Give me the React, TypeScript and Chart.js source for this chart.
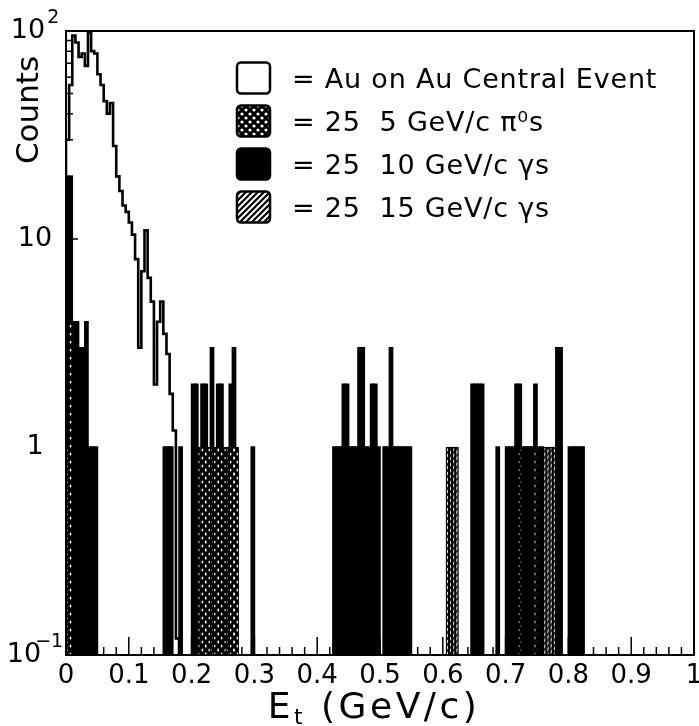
import React, { useEffect, useRef } from "react";
import { Chart, registerables } from "chart.js";

Chart.register(...registerables);

// ---------- data ----------
const BIN_WIDTH = 0.005;
const N_BINS = 200;

const xTickValues = [0, 0.1, 0.2, 0.3, 0.4, 0.5, 0.6, 0.7, 0.8, 0.9, 1];
const xTickLabels = ["0", "0.1", "0.2", "0.3", "0.4", "0.5", "0.6", "0.7", "0.8", "0.9", "1"];
const yTickValues = [0.1, 1, 10, 100];
// base text and superscript of each y tick label
const yTickBase = ["10", "1", "10", "10"];
const yTickSup = ["−1", "", "", "2"];

// Au on Au central event (open histogram), bins of 0.005 starting at 0
const auCounts = [
  12, 30, 55, 95, 88, 75, 78, 68, 98, 80, 78, 62, 55, 46, 40, 45, 28, 20, 17, 14.5,
  13.5, 12, 10.5, 8, 3, 7, 11, 6.5, 5, 2, 4, 5, 3.5, 2.8, 1.8, 1.2, 0.12,
];

// 25 10 GeV/c photons (solid black)
const gamma10Bins = [
  0, 1, 2, 3, 4, 5, 6, 7, 8, 9,
  31, 32, 33, 36, 40, 41, 43, 44, 46, 48, 49, 52, 53, 59,
  85, 86, 87, 88, 89, 90, 91, 92, 93, 94, 95, 96, 97, 98, 99,
  101, 102, 103, 104, 105, 106, 107, 108, 109,
  129, 130, 131, 132, 137,
  140, 141, 142, 143, 144, 145, 146, 147, 148, 149, 150, 151,
  156, 157, 160, 161, 162, 163, 164,
];
const gamma10Counts = [
  20, 20, 4, 4, 3, 3, 4, 1, 1, 1,
  1, 1, 1, 1, 2, 2, 2, 2, 3, 2, 2, 2, 3, 1,
  1, 1, 1, 2, 2, 1, 1, 1, 3, 3, 1, 1, 2, 2, 1,
  1, 1, 3, 1, 1, 1, 1, 1, 1,
  2, 2, 2, 2, 1,
  1, 1, 1, 2, 2, 1, 1, 1, 1, 2, 1, 1,
  3, 3, 1, 1, 1, 1, 1,
];

// 25 5 GeV/c pi0s (cross-hatched)
const pi0Bins = [0, 1, 42, 43, 44, 45, 46, 47, 48, 49, 50, 51, 52, 53, 54, 144, 149];
const pi0Counts = [1, 4, 1, 1, 1, 1, 1, 1, 1, 1, 1, 1, 1, 1, 1, 1, 1];

// 25 15 GeV/c photons (diagonal hatch)
const gamma15Bins = [121, 122, 123, 124, 152, 153, 154, 155];
const gamma15Counts = [1, 1, 1, 1, 1, 1, 1, 1];

const legendLabels = [
  "= Au on Au Central Event",
  "= 25  5 GeV/c π⁰s",
  "= 25  10 GeV/c γs",
  "= 25  15 GeV/c γs",
];

const FONT = "DejaVu Sans";

// ---------- helpers ----------
function toBarPoints(bins: number[], counts: number[]) {
  const arr: { x: number; y: number | null }[] = [];
  for (let i = 0; i < N_BINS; i++) arr.push({ x: (i + 0.5) * BIN_WIDTH, y: null });
  bins.forEach((b, k) => {
    arr[b].y = counts[k];
  });
  return arr;
}

function toStepPoints(counts: number[]) {
  const pts = counts.map((c, i) => ({ x: i * BIN_WIDTH, y: c }));
  pts.push({ x: counts.length * BIN_WIDTH, y: 0.1 });
  return pts;
}

function makeDotPattern(ctx: CanvasRenderingContext2D): CanvasPattern {
  const s = 8;
  const c = document.createElement("canvas");
  c.width = s;
  c.height = s;
  const g = c.getContext("2d")!;
  g.fillStyle = "#000";
  g.fillRect(0, 0, s, s);
  g.fillStyle = "#fff";
  g.beginPath();
  g.arc(2, 2, 1.6, 0, Math.PI * 2);
  g.fill();
  g.beginPath();
  g.arc(6, 6, 1.6, 0, Math.PI * 2);
  g.fill();
  return ctx.createPattern(c, "repeat")!;
}

function makeHatchPattern(ctx: CanvasRenderingContext2D): CanvasPattern {
  const s = 6;
  const c = document.createElement("canvas");
  c.width = s;
  c.height = s;
  const g = c.getContext("2d")!;
  g.fillStyle = "#fff";
  g.fillRect(0, 0, s, s);
  g.strokeStyle = "#000";
  g.lineWidth = 2.2;
  g.beginPath();
  g.moveTo(-1, s + 1);
  g.lineTo(s + 1, -1);
  g.moveTo(-s / 2 - 1, s / 2 + 1);
  g.lineTo(s / 2 + 1, -s / 2 - 1);
  g.moveTo(s / 2 - 1, s * 1.5 + 1);
  g.lineTo(s * 1.5 + 1, s / 2 - 1);
  g.stroke();
  return ctx.createPattern(c, "repeat")!;
}

export default function App() {
  const ref = useRef<HTMLCanvasElement>(null);

  useEffect(() => {
    const canvas = ref.current!;
    const ctx0 = canvas.getContext("2d")!;
    const dots = makeDotPattern(ctx0);
    const hatch = makeHatchPattern(ctx0);

    const axisTicksPlugin = {
      id: "axisTicks",
      beforeDatasetsDraw(chart: any) {
        const { ctx, chartArea, scales } = chart;
        const { left, bottom } = chartArea;
        ctx.save();
        ctx.strokeStyle = "#000";
        ctx.lineWidth = 1.5;
        ctx.beginPath();
        for (let i = 1; i < 50; i++) {
          const px = scales.x.getPixelForValue(i * 0.02);
          const len = i % 5 === 0 ? 18 : 8;
          ctx.moveTo(px, bottom);
          ctx.lineTo(px, bottom - len);
        }
        [0.1, 1, 10].forEach((d) => {
          for (let m = 1; m <= 9; m++) {
            const v = d * m;
            if (v <= 0.1) continue;
            const py = scales.y.getPixelForValue(v);
            const len = m === 1 ? 12 : 7;
            ctx.moveTo(left, py);
            ctx.lineTo(left + len, py);
          }
        });
        ctx.stroke();
        ctx.restore();
      },
    };

    const framePlugin = {
      id: "frameLegend",
      afterDraw(chart: any) {
        const { ctx, chartArea, scales } = chart;
        const { left, right, top, bottom } = chartArea;
        ctx.save();
        ctx.strokeStyle = "#000";
        ctx.lineWidth = 2;
        ctx.strokeRect(left, top, right - left, bottom - top);

        // y tick labels with real superscripts
        const baseFont = `27px "${FONT}"`;
        const supFont = `19px "${FONT}"`;
        ctx.fillStyle = "#000";
        ctx.textBaseline = "middle";
        ctx.textAlign = "left";
        yTickValues.forEach((v, i) => {
          const py = scales.y.getPixelForValue(v);
          ctx.font = baseFont;
          const wb = ctx.measureText(yTickBase[i]).width;
          const sup = yTickSup[i];
          const gap = sup === "−1" ? -6 : 2;
          ctx.font = supFont;
          const ws = sup ? ctx.measureText(sup).width + gap : 0;
          const x = 35 - (wb + ws) / 2;
          ctx.font = baseFont;
          ctx.fillText(yTickBase[i], x, py);
          if (sup) {
            ctx.font = supFont;
            ctx.fillText(sup, x + wb + gap, py - 13);
          }
        });

        // legend
        const rows = [78, 121, 164, 207];
        const fills: any[] = ["#fff", dots, "#000", hatch];
        rows.forEach((cy, i) => {
          const bx = 237, bw = 33, bh = 31;
          ctx.beginPath();
          ctx.roundRect(bx, cy - bh / 2, bw, bh, 4);
          ctx.fillStyle = fills[i];
          ctx.fill();
          ctx.lineWidth = 2.5;
          ctx.strokeStyle = "#000";
          ctx.stroke();
          ctx.fillStyle = "#000";
          ctx.font = `27px "${FONT}"`;
          (ctx as any).letterSpacing = "0.8px";
          ctx.textAlign = "left";
          ctx.textBaseline = "middle";
          ctx.fillText(legendLabels[i], 292, cy + 3);
        });
        (ctx as any).letterSpacing = "0px";

        // y title
        ctx.save();
        ctx.translate(30, 110);
        ctx.rotate(-Math.PI / 2);
        ctx.font = `31px "${FONT}"`;
        ctx.textAlign = "center";
        ctx.textBaseline = "middle";
        ctx.fillText("Counts", 0, 0);
        ctx.restore();

        // x title with subscript
        const big = `36px "${FONT}"`;
        const small = `22px "${FONT}"`;
        const parts = [
          { t: "E", f: big, dy: 0 },
          { t: "t", f: small, dy: 6 },
          { t: " (GeV/c)", f: big, dy: 0 },
        ];
        (ctx as any).letterSpacing = "3.5px";
        let total = 0;
        parts.forEach((p) => {
          ctx.font = p.f;
          total += ctx.measureText(p.t).width;
        });
        let x = 374 - total / 2;
        const baseY = 718;
        ctx.textAlign = "left";
        ctx.textBaseline = "alphabetic";
        parts.forEach((p) => {
          ctx.font = p.f;
          ctx.fillText(p.t, x, baseY + p.dy);
          x += ctx.measureText(p.t).width;
        });
        (ctx as any).letterSpacing = "0px";
        ctx.restore();
      },
    };

    const chart = new Chart(canvas, {
      type: "bar",
      data: {
        datasets: [
          {
            type: "line",
            label: "Au on Au Central Event",
            data: toStepPoints(auCounts),
            borderColor: "#000",
            borderWidth: 2.6,
            pointRadius: 0,
            stepped: "after",
            fill: false,
          } as any,
          {
            label: "25 5 GeV/c pi0s",
            data: toBarPoints(pi0Bins, pi0Counts),
            backgroundColor: dots,
            borderColor: "#000",
            borderWidth: 1,
            grouped: false,
            barPercentage: 1,
            categoryPercentage: 1,
          },
          {
            label: "25 15 GeV/c gammas",
            data: toBarPoints(gamma15Bins, gamma15Counts),
            backgroundColor: hatch,
            borderColor: "#000",
            borderWidth: 1.5,
            grouped: false,
            barPercentage: 1,
            categoryPercentage: 1,
          },
          {
            label: "25 10 GeV/c gammas",
            data: toBarPoints(gamma10Bins, gamma10Counts),
            backgroundColor: "#000",
            borderWidth: 0,
            inflateAmount: 0.8,
            grouped: false,
            barPercentage: 1,
            categoryPercentage: 1,
          },
        ] as any,
      },
      options: {
        responsive: false,
        maintainAspectRatio: false,
        animation: false,
        devicePixelRatio: 1,
        layout: { padding: { left: 0, right: 5, top: 31, bottom: 0 } },
        plugins: { legend: { display: false }, tooltip: { enabled: false } },
        scales: {
          x: {
            type: "linear",
            min: 0,
            max: 1,
            offset: false,
            grid: { display: false, drawTicks: false, offset: false },
            border: { display: true, color: "#000", width: 2 },
            afterBuildTicks: (s: any) => {
              s.ticks = xTickValues.map((v) => ({ value: v }));
            },
            ticks: {
              autoSkip: false,
              maxRotation: 0,
              padding: 6,
              color: "#000",
              font: { family: FONT, size: 26 },
              callback: (_v: any, i: number) => xTickLabels[i],
            },
            afterFit: (s: any) => {
              s.height = 71;
              s.paddingLeft = 0;
              s.paddingRight = 0;
            },
          },
          y: {
            type: "logarithmic",
            min: 0.1,
            max: 100,
            grid: { display: false, drawTicks: false },
            border: { display: true, color: "#000", width: 2 },
            afterBuildTicks: (s: any) => {
              s.ticks = yTickValues.map((v) => ({ value: v }));
            },
            ticks: { display: false },
            afterFit: (s: any) => {
              s.width = 66;
              s.paddingTop = 0;
              s.paddingBottom = 0;
            },
          },
        },
      } as any,
      plugins: [axisTicksPlugin, framePlugin],
    });

    return () => chart.destroy();
  }, []);

  return (
    <div
      style={{
        position: "fixed",
        left: 0,
        top: 0,
        width: 699,
        height: 726,
        background: "#fff",
      }}
    >
      <canvas ref={ref} width={699} height={726} style={{ display: "block" }} />
    </div>
  );
}
